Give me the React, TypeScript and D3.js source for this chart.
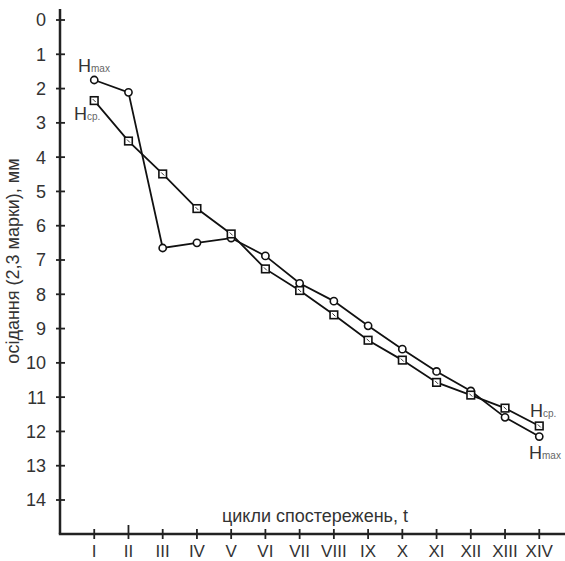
import React from "react";
import * as d3 from "d3";

const cycles = ["I", "II", "III", "IV", "V", "VI", "VII", "VIII", "IX", "X", "XI", "XII", "XIII", "XIV"];
const hMax = [1.75, 2.11, 6.65, 6.5, 6.36, 6.88, 7.68, 8.2, 8.92, 9.6, 10.25, 10.82, 11.59, 12.15];
const hCp = [2.35, 3.53, 4.49, 5.5, 6.24, 7.26, 7.89, 8.6, 9.34, 9.92, 10.57, 10.94, 11.32, 11.84];
const yTicks = d3.range(0, 15);

const FONT = "'Liberation Sans', Arial, sans-serif";
const TXT = "#333";

export default function App() {
  const W = 565, H = 561;
  const x = d3.scaleLinear().domain([0, 15]).range([60, 573.5]);
  const y = d3.scaleLinear().domain([0, 14]).range([20, 500]);
  const ox = 60, oy = 534;
  const line = d3.line<number>().x((_, i) => x(i + 1)).y((d) => y(d));

  return (
    <svg width={W} height={H} style={{ position: "absolute", left: 0, top: 0 }} fontFamily={FONT}>
      <rect width={W} height={H} fill="#fff" />
      {/* axes */}
      <line x1={ox} y1={9} x2={ox} y2={oy} stroke="#222" strokeWidth={2.5} />
      <line x1={ox - 1.2} y1={oy} x2={W} y2={oy} stroke="#222" strokeWidth={2.5} />
      {yTicks.map((t) => (
        <g key={t}>
          <line x1={ox - 4} x2={ox + 5} y1={y(t)} y2={y(t)} stroke="#222" strokeWidth={1.8} />
          <text x={46} y={y(t)} dy="0.36em" textAnchor="end" fontSize={18} fill={TXT}>{t}</text>
        </g>
      ))}
      {cycles.map((c, i) => (
        <g key={c}>
          <line x1={x(i + 1)} x2={x(i + 1)} y1={i === 1 ? oy - 9 : oy - 5} y2={oy + 5} stroke="#222" strokeWidth={1.8} />
          <text x={x(i + 1)} y={557} textAnchor="middle" fontSize={17} fill={TXT}>{c}</text>
        </g>
      ))}
      <text x={315} y={522} textAnchor="middle" fontSize={18} fill={TXT}>цикли спостережень, t</text>
      <text transform={`translate(19,261) rotate(-90)`} textAnchor="middle" fontSize={18} fill={TXT}>осідання (2,3 марки), мм</text>

      {/* lines */}
      <path d={line(hMax) || ""} fill="none" stroke="#111" strokeWidth={1.8} />
      <path d={line(hCp) || ""} fill="none" stroke="#111" strokeWidth={1.8} />
      {hMax.map((v, i) => (
        <circle key={"m" + i} cx={x(i + 1)} cy={y(v)} r={3.6} fill="#fff" stroke="#111" strokeWidth={1.6} />
      ))}
      {hCp.map((v, i) => (
        <g key={"c" + i}>
          <rect x={x(i + 1) - 3.8} y={y(v) - 3.8} width={7.6} height={7.6} fill="#fff" stroke="#111" strokeWidth={1.6} />
          <line x1={x(i + 1) - 1.5} y1={y(v) - 1.5} x2={x(i + 1) + 1.5} y2={y(v) + 1.5} stroke="#333" strokeWidth={1} />
        </g>
      ))}

      {/* series labels */}
      <text x={78} y={72} fontSize={18} fill={TXT}>H<tspan fontSize={10} fill="#666">max</tspan></text>
      <text x={74} y={120} fontSize={18} fill={TXT}>H<tspan fontSize={10} fill="#666">cp.</tspan></text>
      <text x={530} y={417} fontSize={18} fill={TXT}>H<tspan fontSize={10} fill="#666">cp.</tspan></text>
      <text x={529} y={459} fontSize={18} fill={TXT}>H<tspan fontSize={10} fill="#666">max</tspan></text>
    </svg>
  );
}
